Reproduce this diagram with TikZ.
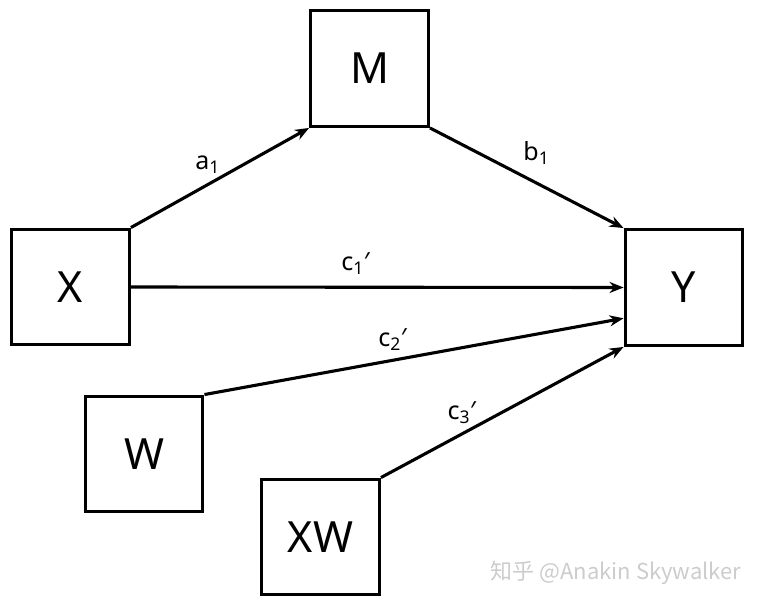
\documentclass[tikz,border=0pt]{standalone}
\usepackage{fontspec}
\setmainfont{Noto Sans}
\newfontfamily\cjk{Noto Sans CJK SC}
\usetikzlibrary{arrows.meta}

\begin{document}
\begin{tikzpicture}[x=1pt, y=-1pt, >={Stealth[length=14pt, width=11pt]},
    var/.style={draw, line width=3.4pt, minimum width=117.5pt, minimum height=115.5pt, inner sep=0pt, font=\fontsize{43}{43}\selectfont},
    effect/.style={->, line width=3.1pt},
    coef/.style={font=\fontsize{25}{25}\selectfont, inner sep=0pt}]
    \useasboundingbox (0, 0) rectangle (762, 607);
    \node[var] (M) at (369.5, 68.5) {M};
    \node[var] (X) at (70.5, 287) {X};
    \node[var] (Y) at (684, 287.5) {Y};
    \node[var] (W) at (144, 454) {W};
    \node[var] (XW) at (320.5, 537) {XW};
    \draw[effect] (X.north east) -- node[coef, pos=0.43, above=10pt] {a\textsubscript{1}} (M.south west);
    \draw[effect] (M.south east) -- node[coef, pos=0.55, above=17pt] {b\textsubscript{1}} (Y.north west);
    \draw[effect] (X.east) -- node[coef, pos=0.456, above=11pt] {c\textsubscript{1}′} (Y.west);
    \draw[effect] (W.north east) -- node[coef, pos=0.449, above=8pt] {c\textsubscript{2}′} (Y.207);
    \draw[effect] (XW.north east) -- node[coef, pos=0.333, above=9pt] {c\textsubscript{3}′} (Y.south west);
    % watermark
    \node[text=black!20, font=\cjk\fontsize{22}{22}\selectfont] (wm) at (616, 573) {知乎 @Anakin Skywalker};
\end{tikzpicture}
\end{document}
